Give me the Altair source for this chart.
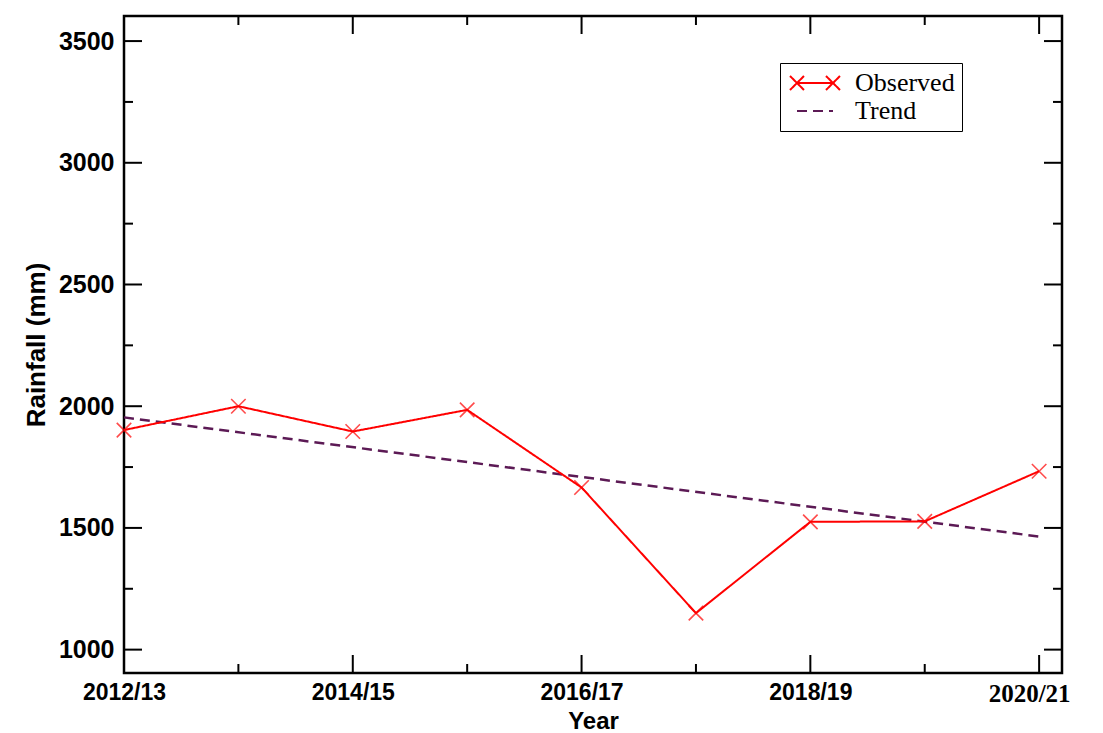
import altair as alt
import pandas as pd

# Seasonal rainfall series
seasons = ["2012/13", "2013/14", "2014/15", "2015/16", "2016/17",
           "2017/18", "2018/19", "2019/20", "2020/21"]
rainfall = [1902, 2000, 1896, 1985, 1666, 1150, 1525, 1527, 1733]

# Axis ticks
y_major = [1000, 1500, 2000, 2500, 3000, 3500]
y_minor = [1250, 1750, 2250, 2750, 3250]
x_major = [0, 2, 4, 6, 8]
x_minor = [1, 3, 5, 7]

series_names = ["Observed", "Trend"]
series_colors = ["#ff0000", "#5c1a55"]
series_dashes = [[1, 0], [10, 6]]

W, H = 938, 657
LEFT, TOP = 124, 16

obs = pd.DataFrame({
    "idx": list(range(len(seasons))),
    "season": seasons,
    "rainfall": rainfall,
    "series": "Observed",
})

x_scale = alt.Scale(domain=[0, 8.2], nice=False, zero=False)
y_scale = alt.Scale(domain=[904, 3603], nice=False, zero=False)

label_expr = "[" + ",".join(f"'{s}'" for s in seasons) + "][datum.value]"
last_label = f"datum.value == {x_major[-1]}"

x_axis = alt.Axis(
    values=x_major, labelExpr=label_expr, ticks=False, domain=False, grid=False,
    title="Year", titleFont="Liberation Sans", titleFontSize=24, titleFontWeight="bold",
    titleColor="black", titlePadding=3,
    labelFont={"condition": {"test": last_label, "value": "Liberation Serif"},
               "value": "Liberation Sans"},
    labelFontSize={"condition": {"test": last_label, "value": 25}, "value": 23},
    labelOffset={"condition": {"test": last_label, "value": -10}, "value": 0},
    labelFontWeight="bold", labelColor="black", labelPadding=8,
    labelOverlap=False, labelFlush=False,
)
y_axis = alt.Axis(
    values=y_major, format="d", ticks=False, domain=False, grid=False,
    title="Rainfall (mm)", titleFont="Liberation Sans", titleFontSize=26,
    titleFontWeight="bold", titleColor="black", titlePadding=9,
    labelFont="Liberation Sans", labelFontSize=25, labelFontWeight="bold",
    labelColor="black", labelPadding=10,
)


def xq():
    return alt.X("idx:Q", scale=x_scale, axis=x_axis)


def yq():
    return alt.Y("rainfall:Q", scale=y_scale, axis=y_axis)


obs_path = ("M-1.8,0L1.8,0"
            "M-2.5,-0.7L-1.1,0.7M-2.5,0.7L-1.1,-0.7"
            "M1.1,-0.7L2.5,0.7M1.1,0.7L2.5,-0.7")
trend_path = "M-1.8,0L1.8,0"

legend = alt.Legend(
    orient="none", legendX=656, legendY=47, title=None,
    strokeColor="black", padding=7, fillColor="white",
    labelFont="Liberation Serif", labelFontSize=26, labelColor="black",
    labelOffset=27, symbolOffset=15, symbolSize=400, symbolStrokeWidth=2,
    symbolFillColor="transparent", rowPadding=2,
    symbolType={"expr": f"datum.value === 'Observed' ? '{obs_path}' : '{trend_path}'"},
)

color = alt.Color("series:N", scale=alt.Scale(domain=series_names, range=series_colors),
                  legend=legend)
dash = alt.StrokeDash("series:N", scale=alt.Scale(domain=series_names, range=series_dashes),
                      legend=legend)

observed_line = alt.Chart(obs).mark_line(strokeWidth=2).encode(
    x=xq(), y=yq(), color=color, strokeDash=dash)

observed_marks = alt.Chart(obs).mark_point(
    shape="M-1,-1L1,1M-1,1L1,-1", size=210, filled=False, color="#ff0000", strokeWidth=1.6
).encode(x=xq(), y=yq())

trend_line = alt.Chart(obs).transform_regression(
    "idx", "rainfall"
).transform_calculate(series="'Trend'").mark_line(strokeWidth=2.5).encode(
    x=xq(), y=yq(), color=color, strokeDash=dash)

# Inward-pointing frame ticks
ymaj = pd.DataFrame({"rainfall": y_major})
ymin = pd.DataFrame({"rainfall": y_minor})
xmaj = pd.DataFrame({"idx": x_major})
xmin = pd.DataFrame({"idx": x_minor})

tick_style = dict(color="black", strokeWidth=2)
ticks = [
    alt.Chart(ymaj).mark_rule(**tick_style).encode(y=yq(), x=alt.value(0), x2=alt.value(18)),
    alt.Chart(ymin).mark_rule(**tick_style).encode(y=yq(), x=alt.value(0), x2=alt.value(9)),
    alt.Chart(ymaj).mark_rule(**tick_style).encode(y=yq(), x=alt.value(W), x2=alt.value(W - 18)),
    alt.Chart(ymin).mark_rule(**tick_style).encode(y=yq(), x=alt.value(W), x2=alt.value(W - 9)),
    alt.Chart(xmaj).mark_rule(**tick_style).encode(x=xq(), y=alt.value(H), y2=alt.value(H - 18)),
    alt.Chart(xmin).mark_rule(**tick_style).encode(x=xq(), y=alt.value(H), y2=alt.value(H - 9)),
    alt.Chart(xmaj).mark_rule(**tick_style).encode(x=xq(), y=alt.value(0), y2=alt.value(18)),
    alt.Chart(xmin).mark_rule(**tick_style).encode(x=xq(), y=alt.value(0), y2=alt.value(9)),
]

chart = alt.layer(
    *ticks, trend_line, observed_line, observed_marks
).properties(
    width=W, height=H,
    autosize=alt.AutoSizeParams(type="none"),
    padding={"left": LEFT, "top": TOP, "right": 1103 - LEFT - W, "bottom": 733 - TOP - H},
    background="white",
).configure_view(
    stroke="black", strokeWidth=2.5
)

chart.save("out.html", embed_options={"renderer": "svg", "actions": False})
